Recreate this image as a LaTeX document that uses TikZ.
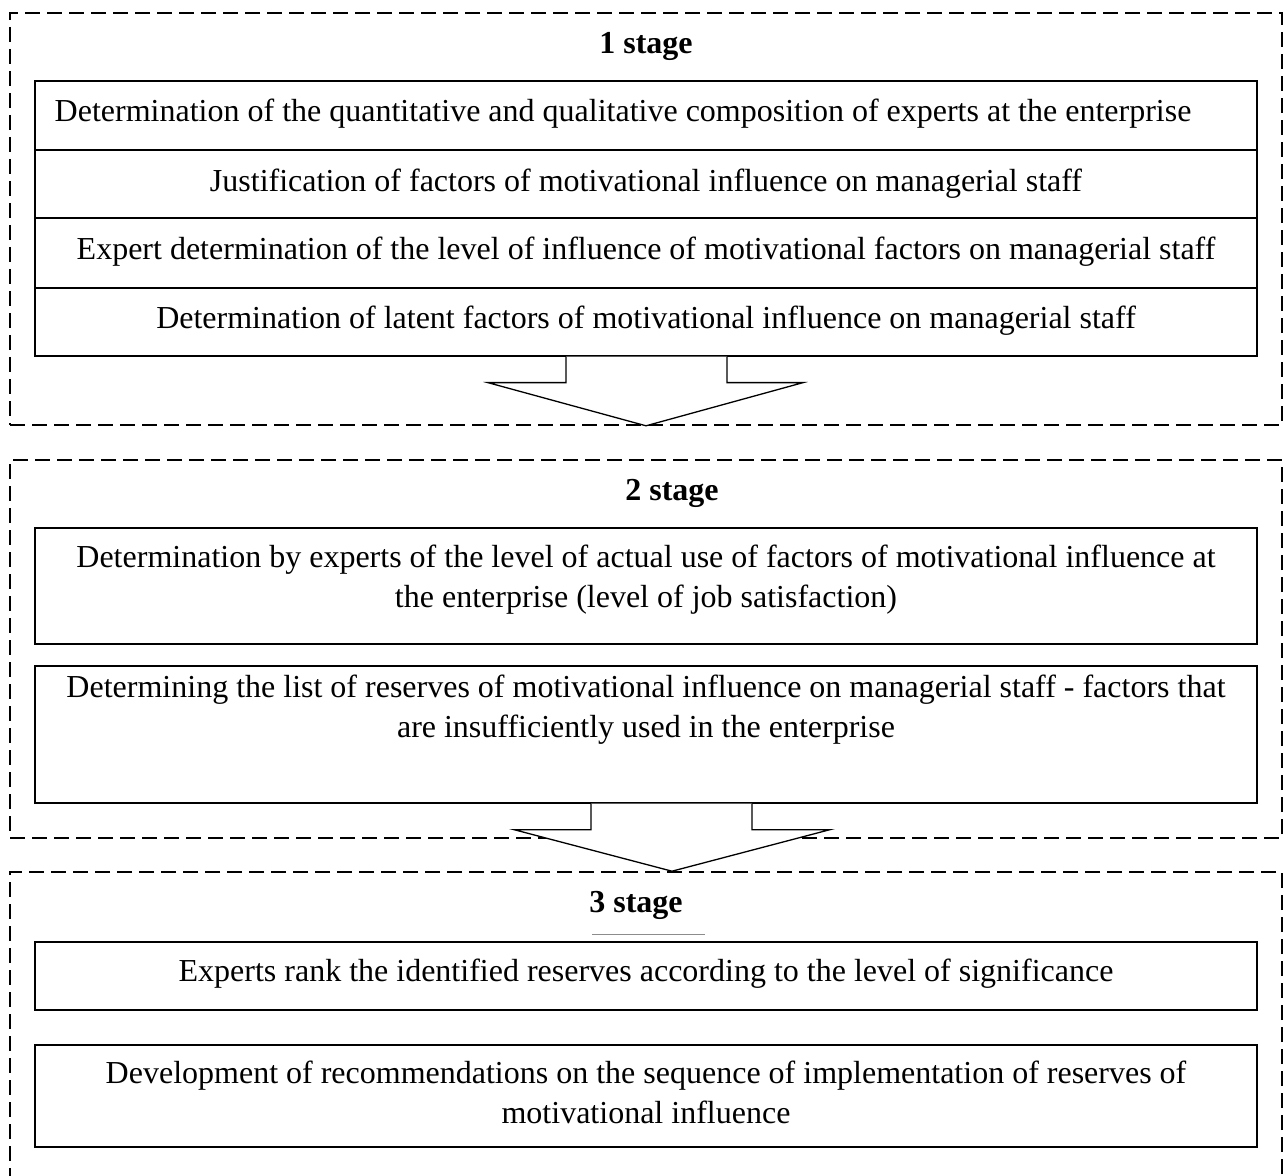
\documentclass[tikz,border=0pt]{standalone}
\usepackage{fontspec}
\setmainfont{Liberation Serif}
\usetikzlibrary{calc}
\begin{document}
\begin{tikzpicture}[x=0.5pt,y=-0.5pt,
  frame/.style={draw, line width=0.8pt, dash pattern=on 7.5pt off 3.5pt,
    minimum width=636pt, inner sep=0pt},
  box/.style={draw, line width=0.65pt, minimum width=611pt, inner sep=0pt},
  txt/.style={anchor=north, inner sep=0pt, align=center,
    font=\fontsize{16}{20}\selectfont},
  stagelbl/.style={anchor=base, inner sep=0pt,
    font=\fontsize{16}{20}\selectfont\bfseries},
  blockarrow/.style={draw, line width=0.65pt, fill=white, line join=miter}]
\clip (0,0) rectangle (1285,1176);
\fill[white] (0,0) rectangle (1285,1176);

% dashed stage frames
\node[frame, minimum height=206pt] (f1) at (646,219) {};
\node[frame, minimum height=189pt] (f2) at (646,649) {};
\node[frame, minimum height=164pt] (f3) at (646,1036) {};

% stage titles
\node[stagelbl] (l1) at (646,54) {1 stage};
\node[stagelbl] (l2) at (672,501) {2 stage};
\node[stagelbl] (l3) at (636,912) {3 stage};

% stage 1 table rows
\node[box, minimum height=34.5pt] (r1) at (646,115.5) {};
\node[box, minimum height=34pt]   (r2) at (646,184) {};
\node[box, minimum height=35pt]   (r3) at (646,253) {};
\node[box, minimum height=34pt]   (r4) at (646,322) {};

% stage 2 boxes
\node[box, minimum height=58pt]   (s2a) at (646,586) {};
\node[box, minimum height=68.5pt] (s2b) at (646,734.5) {};

% stage 3 boxes
\node[box, minimum height=34pt]   (s3a) at (646,976) {};
\node[box, minimum height=51pt]   (s3b) at (646,1096) {};

% thin rule under the stage 3 title
\draw[line width=0.4pt, black!45] ($(l3.base)+(-44,22)$) -- ($(l3.base)+(69,22)$);

% texts (node top = first baseline - 28)
\node[txt] (t1) at (623,93) {Determination of the quantitative and qualitative composition of experts at the enterprise\strut};
\node[txt] (t2) at (646,163) {Justification of factors of motivational influence on managerial staff\strut};
\node[txt] (t3) at (646,231) {Expert determination of the level of influence of motivational factors on managerial staff\strut};
\node[txt] (t4) at (646,300) {Determination of latent factors of motivational influence on managerial staff\strut};
\node[txt] (t5) at (646,539) {Determination by experts of the level of actual use of factors of motivational influence at\strut\\the enterprise (level of job satisfaction)\strut};
\node[txt] (t6) at (646,669) {Determining the list of reserves of motivational influence on managerial staff - factors that\strut\\are insufficiently used in the enterprise\strut};
\node[txt] (t7) at (646,953) {Experts rank the identified reserves according to the level of significance\strut};
\node[txt] (t8) at (646,1055) {Development of recommendations on the sequence of implementation of reserves of\strut\\motivational influence\strut};

% block arrows between stages
\draw[blockarrow] ($(r4.south)+(-80,0)$) -- ++(0,26) -- ++(-78,0)
  -- (f1.south) -- ($(r4.south)+(157,26)$) -- ++(-76,0) -- ++(0,-26);
\draw[blockarrow] ($(s2b.south)+(-55,0)$) -- ++(0,26) -- ++(-77,0)
  -- ($(f3.north)+(26,0)$) -- ($(s2b.south)+(184,26)$) -- ++(-78,0) -- ++(0,-26);
\end{tikzpicture}
\end{document}
